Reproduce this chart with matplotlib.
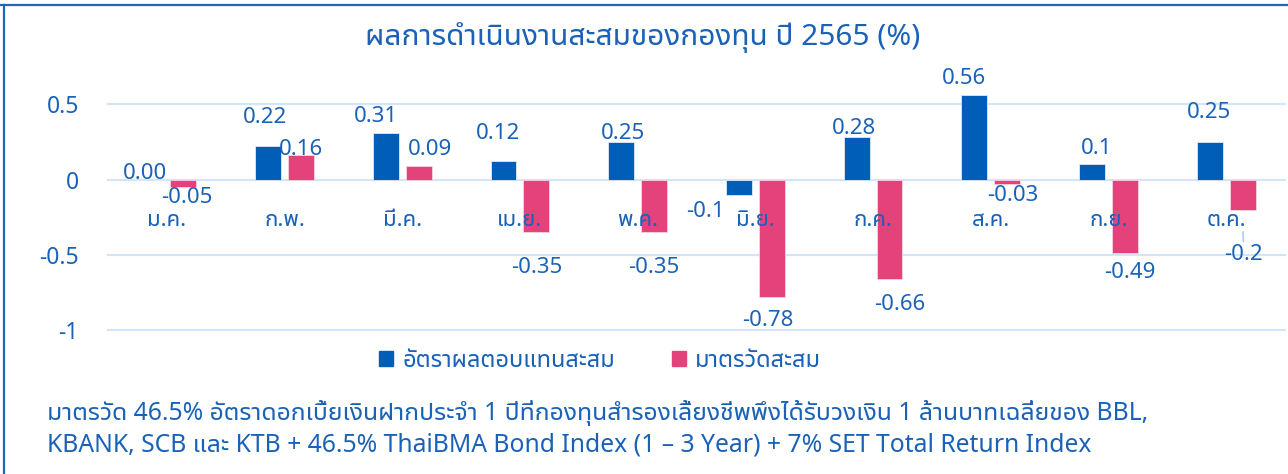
import matplotlib
matplotlib.use("Agg")
import matplotlib.pyplot as plt
import matplotlib.patches as mpatches
import numpy as np

plt.rcParams['font.family'] = ['Noto Sans', 'Noto Sans Thai UI', 'DejaVu Sans']

# data
months = ['ม.ค.', 'ก.พ.', 'มี.ค.', 'เม.ย.', 'พ.ค.', 'มิ.ย.', 'ก.ค.', 'ส.ค.', 'ก.ย.', 'ต.ค.']
fund_return = [0.00, 0.22, 0.31, 0.12, 0.25, -0.1, 0.28, 0.56, 0.1, 0.25]
benchmark = [-0.05, 0.16, 0.09, -0.35, -0.35, -0.78, -0.66, -0.03, -0.49, -0.2]
fund_text = ['0.00', '0.22', '0.31', '0.12', '0.25', '-0.1', '0.28', '0.56', '0.1', '0.25']
bench_text = ['-0.05', '0.16', '0.09', '-0.35', '-0.35', '-0.78', '-0.66', '-0.03', '-0.49', '-0.2']

title = 'ผลการดำเนินงานสะสมของกองทุน ปี 2565 (%)'
legend_labels = ['อัตราผลตอบแทนสะสม', 'มาตรวัดสะสม']
note1 = 'มาตรวัด 46.5% อัตราดอกเบี้ยเงินฝากประจำ 1 ปีที่กองทุนสำรองเลี้ยงชีพพึงได้รับวงเงิน 1 ล้านบาทเฉลี่ยของ BBL,'
note2 = 'KBANK, SCB และ KTB + 46.5% ThaiBMA Bond Index (1 – 3 Year) + 7% SET Total Return Index'

# label offsets (pixels, dx right / dy down) relative to bar end, as placed in the original
fund_off = [(-5, -6), (-3, -29), (-10, -16), (-5, -28), (2, -8), (-33, 17), (-3, -9), (-10, -16), (5, -16), (-1, -29)]
bench_off = [(3, 10), (0, -6), (11, -16), (0, 35), (0, 35), (-4, 23), (10, 25), (6, 11), (5, 19), (1, 45)]

BLUE = '#005EB8'
PINK = '#E3427A'
TXT = '#1A62B8'
GRID = '#D3E6F8'

fig = plt.figure(figsize=(12.88, 4.74), dpi=100)
ax = fig.add_axes([108 / 1288, 0.2964, 1177 / 1288, 0.5224])

x = np.arange(len(months))
w = 0.22
off = 0.14
ax.bar(x - off, fund_return, w, color=BLUE, edgecolor='#dfe9f5', linewidth=0.6, zorder=3)
ax.bar(x + off, benchmark, w, color=PINK, edgecolor='#f6d3df', linewidth=0.6, zorder=3)

ax.set_xlim(-0.5, len(months) - 0.5)
ax.set_ylim(-1.02, 0.62)
ax.set_yticks([0.5, 0, -0.5, -1])
ax.set_yticklabels(['0.5', '0', '-0.5', '-1'])
ax.tick_params(axis='y', length=0, pad=21, labelsize=16.5, labelcolor=TXT)
ax.set_xticks([])
for v in [0.5, 0, -0.5, -1]:
    ax.axhline(v, color=GRID, linewidth=1.6, zorder=1, clip_on=False)
for s in ax.spines.values():
    s.set_visible(False)

px = 0.72  # points per pixel at 100 dpi
for i in range(len(months)):
    ax.annotate(months[i], (x[i], 0), xytext=(0, -41 * px), textcoords='offset points',
                ha='center', va='center', fontsize=16, color=TXT, zorder=5)
    dx, dy = fund_off[i]
    ax.annotate(fund_text[i], (x[i] - off, fund_return[i]), xytext=(dx * px, -dy * px),
                textcoords='offset points', ha='center', va='center', fontsize=16, color=TXT, zorder=5)
    dx, dy = bench_off[i]
    arrow = None
    if i == len(months) - 1:
        arrow = dict(arrowstyle='-', color='#a9cbef', lw=1.2, shrinkA=0, shrinkB=16)
    ax.annotate(bench_text[i], (x[i] + off, benchmark[i]), xytext=(dx * px, -dy * px),
                textcoords='offset points', ha='center', va='center', fontsize=16, color=TXT, zorder=5,
                arrowprops=arrow)

fig.text(643 / 1288, 1 - 38 / 474, title, ha='center', va='center', fontsize=21.5, color=TXT)

handles = [mpatches.Patch(color=BLUE), mpatches.Patch(color=PINK)]
fig.legend(handles, legend_labels, loc='center', bbox_to_anchor=(600 / 1288, 1 - 361 / 474),
           ncol=2, frameon=False, fontsize=17, labelcolor=TXT, handlelength=0.6, handleheight=0.6,
           handletextpad=0.4, columnspacing=2.4)

fig.text(47 / 1288, 1 - 413 / 474, note1, ha='left', va='center', fontsize=17.8, color=TXT)
fig.text(47 / 1288, 1 - 445 / 474, note2, ha='left', va='center', fontsize=17.8, color=TXT)

# outer frame (top and left edges)
fig.add_artist(plt.Line2D([0, 1], [1 - 5 / 474, 1 - 5 / 474], color='#1F66BA', linewidth=1.6))
fig.add_artist(plt.Line2D([4 / 1288, 4 / 1288], [0, 1 - 5 / 474], color='#1F66BA', linewidth=1.6))

fig.savefig('out.png', dpi=100)
